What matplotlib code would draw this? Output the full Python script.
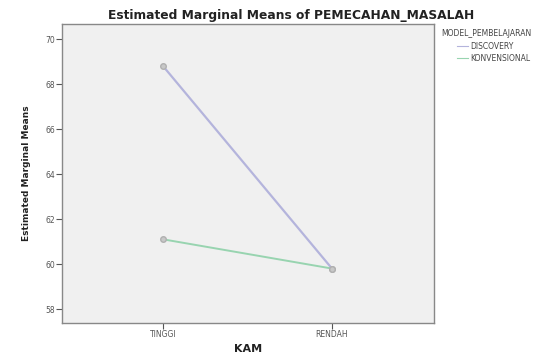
import matplotlib
matplotlib.use("Agg")
import matplotlib.pyplot as plt

categories = ["TINGGI", "RENDAH"]
discovery = [68.8, 59.8]
konvensional = [61.1, 59.8]
yticks = [58, 60, 62, 64, 66, 68, 70]

W, H = 557, 359
fig = plt.figure(figsize=(W / 100, H / 100), dpi=100)
fig.patch.set_facecolor("white")
L, R, T, B = 62, 434, 24, 323
ax = fig.add_axes([L / W, 1 - B / H, (R - L) / W, (B - T) / H])
ax.set_facecolor("#f0f0f0")

x = list(range(len(categories)))
ax.plot(x, discovery, color="#b4b4dc", lw=1.6, marker="o", ms=4,
        mfc="#c8c8c8", mec="#b0b0b0", label="DISCOVERY")
ax.plot(x, konvensional, color="#98d4b0", lw=1.4, marker="o", ms=4,
        mfc="#c8c8c8", mec="#b0b0b0", label="KONVENSIONAL")

ax.set_xlim(-0.598, 1.604)
ax.set_ylim(57.38, 70.67)
ax.set_xticks(x)
ax.set_xticklabels(categories, fontsize=5.5, color="#444444")
ax.set_yticks(yticks)
ax.set_yticklabels([str(v) for v in yticks], fontsize=5.5, color="#444444")
ax.tick_params(length=4, width=0.8, colors="#555555", pad=1)
for s in ax.spines.values():
    s.set_color("#888888")
    s.set_linewidth(1.0)

ax.set_xlabel("KAM", fontsize=8, fontweight="bold", color="#222222", labelpad=4)
ax.set_ylabel("Estimated Marginal Means", fontsize=6.5, fontweight="bold",
              color="#222222", labelpad=10)
fig.text(291 / W, 1 - 15 / H, "Estimated Marginal Means of PEMECAHAN_MASALAH",
         ha="center", va="center", fontsize=8.8, fontweight="bold", color="#222222")

fig.text(441 / W, 1 - 33 / H, "MODEL_PEMBELAJARAN", ha="left", va="center",
         fontsize=5.5, color="#444444")
leg = fig.legend(*ax.get_legend_handles_labels(), loc="upper left",
                 bbox_to_anchor=(457 / W, 1 - 42 / H), frameon=False,
                 fontsize=5.5, handlelength=1.4, handletextpad=0.3,
                 borderaxespad=0, borderpad=0, labelspacing=0.35)
for h in leg.legend_handles:
    h.set_marker("")
    h.set_linewidth(0.8)
for t in leg.get_texts():
    t.set_color("#444444")

fig.savefig("out.png", dpi=100)
